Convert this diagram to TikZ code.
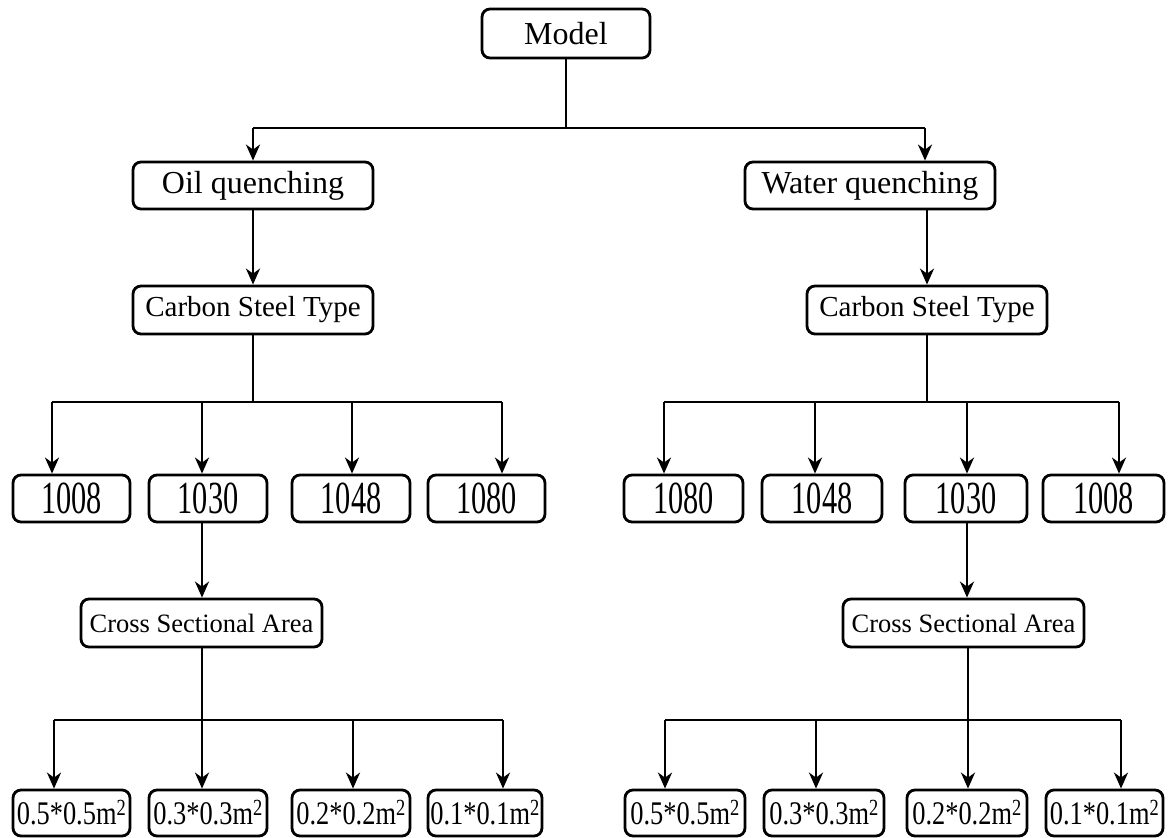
\documentclass[tikz,border=0pt]{standalone}
\usepackage{graphicx}
\usepackage{fontspec}
\setmainfont{Liberation Serif}
\usetikzlibrary{arrows.meta,calc}
\newcommand{\numlab}[1]{\scalebox{0.66}[1]{\fontsize{46}{50}\selectfont #1}}
\newcommand{\arealab}[1]{\scalebox{0.8}[1]{\fontsize{33}{36}\selectfont #1m\textsuperscript{2}}}
\begin{document}
\begin{tikzpicture}[x=1pt,y=-1pt,
  box/.style={draw, line width=2.8pt, rounded corners=8pt, inner sep=0pt, minimum height=48pt, anchor=center},
  conn/.style={line width=2.6pt},
  arr/.style={line width=2.6pt, -{Stealth[length=16pt,width=14pt,inset=5pt]}},
  big/.style={font=\fontsize{32}{36}\selectfont},
  mid/.style={font=\fontsize{29}{33}\selectfont},
  sm/.style={font=\fontsize{26.5}{30}\selectfont},
]
\useasboundingbox (0,0) rectangle (1176,838);
% level 0-2
\node[box,big,minimum width=168pt,minimum height=49pt] (model) at (566,33.5) {Model};
\node[box,big,minimum width=240pt,minimum height=47pt] (oil) at (253,185.5) {Oil quenching};
\node[box,big,minimum width=250pt,minimum height=47pt] (water) at (870,185.5) {Water quenching};
\node[box,mid,minimum width=240pt] (csL) at (253,310) {Carbon Steel Type};
\node[box,mid,minimum width=240pt] (csR) at (927,310) {Carbon Steel Type};
% level 3
\node[box,minimum width=117pt,minimum height=47pt] (L1008) at (71.5,498.5) {\numlab{1008}};
\node[box,minimum width=118pt,minimum height=47pt] (L1030) at (208,498.5) {\numlab{1030}};
\node[box,minimum width=118pt,minimum height=47pt] (L1048) at (351,498.5) {\numlab{1048}};
\node[box,minimum width=117pt,minimum height=47pt] (L1080) at (486.5,498.5) {\numlab{1080}};
\node[box,minimum width=119pt,minimum height=47pt] (R1080) at (683.5,498.5) {\numlab{1080}};
\node[box,minimum width=120pt,minimum height=47pt] (R1048) at (822,498.5) {\numlab{1048}};
\node[box,minimum width=122pt,minimum height=47pt] (R1030) at (966,498.5) {\numlab{1030}};
\node[box,minimum width=121pt,minimum height=47pt] (R1008) at (1103.5,498.5) {\numlab{1008}};
% level 4
\node[box,sm,minimum width=241pt] (crossL) at (201.5,623) {Cross Sectional Area};
\node[box,sm,minimum width=241pt] (crossR) at (963.5,623) {Cross Sectional Area};
% level 5
\node[box,minimum width=117pt,minimum height=46pt] (L05) at (71.5,813) {\arealab{0.5*0.5}};
\node[box,minimum width=118pt,minimum height=46pt] (L03) at (208,813) {\arealab{0.3*0.3}};
\node[box,minimum width=118pt,minimum height=46pt] (L02) at (351,813) {\arealab{0.2*0.2}};
\node[box,minimum width=114pt,minimum height=46pt] (L01) at (485,813) {\arealab{0.1*0.1}};
\node[box,minimum width=120pt,minimum height=46pt] (R05) at (685,813) {\arealab{0.5*0.5}};
\node[box,minimum width=120pt,minimum height=46pt] (R03) at (824,813) {\arealab{0.3*0.3}};
\node[box,minimum width=120pt,minimum height=46pt] (R02) at (967,813) {\arealab{0.2*0.2}};
\node[box,minimum width=117pt,minimum height=46pt] (R01) at (1104.5,813) {\arealab{0.1*0.1}};

% top connectors
\coordinate (t0) at (566,128);
\coordinate (tL) at (253,128);
\coordinate (tR) at (925,128);
\draw[conn] (model.south) -- (t0);
\draw[conn] (tL) -- (tR);
\draw[arr] (tL) -- (oil.north);
\draw[arr] (tR) -- (tR |- water.north);
\draw[arr] (oil.south) -- (csL.north);
\draw[arr] (csR.north |- water.south) -- (csR.north);

% level 3 buses
\coordinate (a1) at (52,402);
\coordinate (a2) at (202,402);
\coordinate (a3) at (352,402);
\coordinate (a4) at (502,402);
\coordinate (b1) at (664,402);
\coordinate (b2) at (815,402);
\coordinate (b3) at (967,402);
\coordinate (b4) at (1119,402);
\draw[conn] (csL.south) -- (csL.south |- a1);
\draw[conn] (a1) -- (a4);
\draw[conn] (csR.south) -- (csR.south |- b1);
\draw[conn] (b1) -- (b4);
\foreach \p/\n in {a1/L1008,a2/L1030,a3/L1048,a4/L1080,b1/R1080,b2/R1048,b3/R1030,b4/R1008}
  \draw[arr] (\p) -- (\p |- \n.north);

% to cross sectional area
\draw[arr] (a2 |- L1030.south) -- (a2 |- crossL.north);
\draw[arr] (b3 |- R1030.south) -- (b3 |- crossR.north);

% level 5 buses
\coordinate (c1) at (54,720);
\coordinate (c2) at (202,720);
\coordinate (c3) at (353,720);
\coordinate (c4) at (503,720);
\coordinate (d1) at (665,720);
\coordinate (d2) at (816,720);
\coordinate (d3) at (968,720);
\coordinate (d4) at (1121,720);
\draw[conn] (c2 |- crossL.south) -- (c2);
\draw[conn] (c1) -- (c4);
\draw[conn] (d3 |- crossR.south) -- (d3);
\draw[conn] (d1) -- (d4);
\foreach \p/\n in {c1/L05,c2/L03,c3/L02,c4/L01,d1/R05,d2/R03,d3/R02,d4/R01}
  \draw[arr] (\p) -- (\p |- \n.north);
\end{tikzpicture}
\end{document}
